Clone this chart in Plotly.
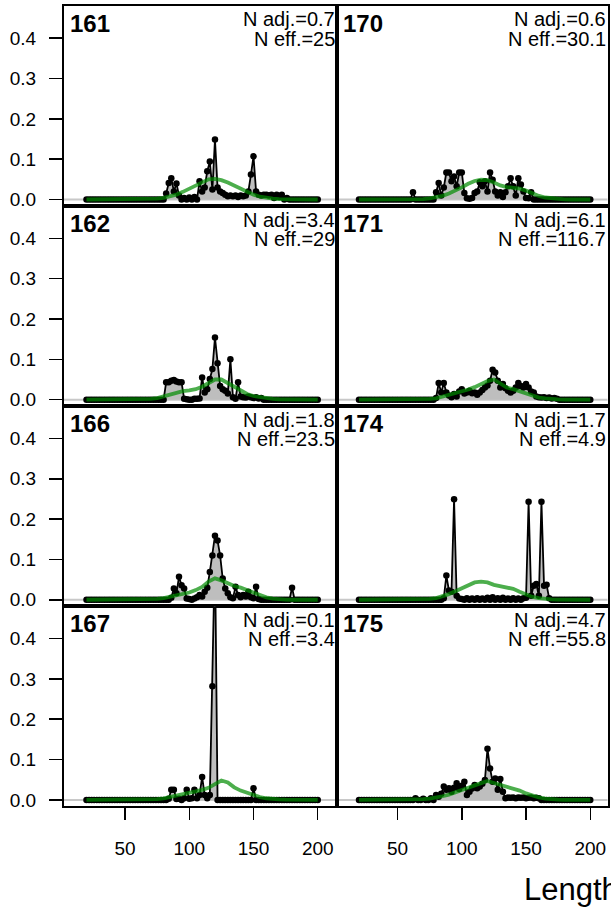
import plotly.graph_objects as go

# ---------------- data ----------------
panel_ids = ["161", "162", "166", "167", "170", "171", "174", "175"]
n_adj = ["0.7", "3.4", "1.8", "0.1", "0.6", "6.1", "1.7", "4.7"]
n_eff = ["25", "29", "23.5", "3.4", "30.1", "116.7", "4.9", "55.8"]

bins = list(range(20, 201, 2))          # observed length bins
exp_len = list(range(20, 201, 5))       # expected length points

# observed proportions (non-zero bins only; all other bins are 0)
obs_161 = {82: 0.015, 84: 0.041, 86: 0.053, 88: 0.02, 90: 0.04, 92: 0.01, 96: 0.004, 100: 0.005,
           104: 0.006, 108: 0.045, 110: 0.02, 112: 0.03, 114: 0.07, 116: 0.094, 118: 0.025, 120: 0.149,
           122: 0.03, 124: 0.02, 126: 0.016, 128: 0.012, 130: 0.008, 132: 0.01, 134: 0.008, 136: 0.01,
           138: 0.006, 140: 0.01, 142: 0.008, 144: 0.01, 146: 0.02, 148: 0.062, 150: 0.107, 152: 0.02,
           154: 0.012, 156: 0.01, 158: 0.012, 160: 0.012, 162: 0.01, 164: 0.012, 166: 0.004, 168: 0.012,
           170: 0.006, 172: 0.012, 176: 0.004}
obs_162 = {82: 0.043, 84: 0.043, 86: 0.047, 88: 0.049, 90: 0.045, 92: 0.043, 94: 0.043, 96: 0.002,
           98: 0.001, 104: 0.002, 106: 0.002, 108: 0.003, 110: 0.055, 112: 0.018, 114: 0.026, 116: 0.051,
           118: 0.076, 120: 0.154, 122: 0.09, 124: 0.034, 126: 0.026, 128: 0.022, 130: 0.015, 132: 0.1,
           134: 0.006, 136: 0.002, 138: 0.043, 140: 0.008, 142: 0.006, 144: 0.005, 146: 0.008, 148: 0.006,
           150: 0.004, 152: 0.006, 154: 0.003, 156: 0.004}
obs_166 = {86: 0.005, 88: 0.028, 90: 0.016, 92: 0.057, 94: 0.036, 96: 0.028, 98: 0.003, 100: 0.002,
           104: 0.003, 106: 0.006, 108: 0.012, 110: 0.008, 112: 0.02, 114: 0.03, 116: 0.069, 118: 0.11,
           120: 0.159, 122: 0.147, 124: 0.11, 126: 0.053, 128: 0.028, 130: 0.016, 132: 0.006, 134: 0.004,
           136: 0.032, 138: 0.012, 140: 0.006, 142: 0.012, 144: 0.008, 146: 0.02, 148: 0.006, 150: 0.004,
           152: 0.032, 154: 0.002, 180: 0.03}
obs_167 = {84: 0.003, 86: 0.025, 88: 0.025, 90: 0.002, 92: 0.003, 96: 0.004, 98: 0.025, 100: 0.003,
           102: 0.004, 104: 0.025, 106: 0.004, 108: 0.012, 110: 0.057, 112: 0.012, 114: 0.004, 116: 0.012,
           118: 0.282, 120: 0.62, 150: 0.029}
obs_170 = {62: 0.018, 80: 0.018, 82: 0.041, 84: 0.01, 86: 0.03, 88: 0.067, 90: 0.067, 92: 0.045,
           94: 0.057, 96: 0.033, 98: 0.067, 100: 0.067, 102: 0.016, 104: 0.003, 106: 0.002, 108: 0.004,
           110: 0.016, 112: 0.02, 114: 0.043, 116: 0.033, 118: 0.045, 120: 0.02, 122: 0.067, 124: 0.049,
           126: 0.02, 128: 0.01, 130: 0.018, 132: 0.006, 134: 0.018, 136: 0.033, 138: 0.053, 140: 0.033,
           142: 0.01, 144: 0.053, 146: 0.037, 148: 0.02, 150: 0.004, 152: 0.003, 154: 0.018}
obs_171 = {80: 0.004, 82: 0.041, 84: 0.018, 86: 0.041, 88: 0.018, 90: 0.01, 92: 0.006, 94: 0.014,
           96: 0.008, 98: 0.02, 100: 0.026, 102: 0.015, 104: 0.018, 106: 0.022, 108: 0.016, 110: 0.018,
           112: 0.012, 114: 0.018, 116: 0.024, 118: 0.03, 120: 0.035, 122: 0.047, 124: 0.074, 126: 0.067,
           128: 0.047, 130: 0.03, 132: 0.039, 134: 0.028, 136: 0.022, 138: 0.018, 140: 0.022, 142: 0.03,
           144: 0.041, 146: 0.034, 148: 0.03, 150: 0.039, 152: 0.03, 154: 0.02, 156: 0.018, 158: 0.008,
           160: 0.006, 162: 0.005, 164: 0.006, 166: 0.004, 168: 0.005, 170: 0.003, 172: 0.004, 174: 0.002}
obs_174 = {86: 0.004, 88: 0.06, 90: 0.023, 92: 0.02, 94: 0.249, 96: 0.01, 98: 0.003, 100: 0.002,
           104: 0.004, 108: 0.003, 112: 0.004, 116: 0.003, 120: 0.005, 124: 0.006, 128: 0.004, 132: 0.005,
           136: 0.003, 140: 0.004, 144: 0.003, 148: 0.004, 150: 0.005, 152: 0.243, 154: 0.01, 156: 0.035,
           158: 0.039, 160: 0.01, 162: 0.243, 164: 0.035, 166: 0.037, 168: 0.004}
obs_175 = {64: 0.004, 70: 0.003, 76: 0.004, 80: 0.012, 82: 0.008, 84: 0.015, 86: 0.033, 88: 0.025,
           90: 0.029, 92: 0.02, 94: 0.03, 96: 0.041, 98: 0.027, 100: 0.035, 102: 0.045, 104: 0.012,
           106: 0.02, 108: 0.028, 110: 0.037, 112: 0.029, 114: 0.033, 116: 0.04, 118: 0.049, 120: 0.127,
           122: 0.078, 124: 0.045, 126: 0.053, 128: 0.025, 130: 0.052, 132: 0.02, 134: 0.004, 136: 0.006,
           138: 0.005, 140: 0.006, 142: 0.004, 144: 0.006, 146: 0.005, 148: 0.006, 150: 0.004, 152: 0.005,
           154: 0.006, 156: 0.004, 158: 0.005, 160: 0.004}

# expected proportions at exp_len (20, 25, ..., 200)
exp_161 = [0, 0, 0, 0, 0, 0, 0, 0, 0, 0.0005, 0.001, 0.002, 0.004, 0.007, 0.012, 0.019, 0.027, 0.036,
           0.044, 0.050, 0.051, 0.048, 0.042, 0.034, 0.026, 0.018, 0.012, 0.007, 0.004, 0.002, 0.001,
           0.0005, 0, 0, 0, 0, 0]
exp_162 = [0, 0, 0, 0, 0, 0, 0, 0, 0, 0.001, 0.002, 0.004, 0.008, 0.013, 0.018, 0.021, 0.023, 0.026,
           0.032, 0.042, 0.050, 0.050, 0.041, 0.030, 0.021, 0.014, 0.009, 0.006, 0.004, 0.002, 0.001,
           0.0005, 0, 0, 0, 0, 0]
exp_166 = [0, 0, 0, 0, 0, 0, 0, 0, 0, 0.0005, 0.001, 0.002, 0.004, 0.007, 0.010, 0.014, 0.018, 0.024,
           0.032, 0.045, 0.053, 0.048, 0.040, 0.034, 0.030, 0.024, 0.017, 0.010, 0.006, 0.003, 0.001,
           0.0005, 0, 0, 0, 0, 0]
exp_167 = [0, 0, 0, 0, 0, 0, 0, 0, 0, 0.0005, 0.001, 0.002, 0.004, 0.007, 0.010, 0.013, 0.017, 0.021,
           0.025, 0.030, 0.039, 0.048, 0.043, 0.031, 0.023, 0.017, 0.012, 0.007, 0.004, 0.002, 0.001,
           0.0005, 0, 0, 0, 0, 0]
exp_170 = [0, 0, 0, 0, 0, 0, 0, 0, 0, 0.0005, 0.001, 0.003, 0.005, 0.009, 0.015, 0.022, 0.030, 0.039,
           0.046, 0.049, 0.048, 0.042, 0.035, 0.031, 0.029, 0.027, 0.022, 0.015, 0.009, 0.005, 0.003,
           0.001, 0.0005, 0, 0, 0, 0]
exp_171 = [0, 0, 0, 0, 0, 0, 0, 0, 0, 0.0005, 0.001, 0.002, 0.003, 0.007, 0.012, 0.016, 0.021, 0.025,
           0.031, 0.038, 0.046, 0.050, 0.040, 0.030, 0.026, 0.021, 0.016, 0.010, 0.005, 0.003, 0.001,
           0.0005, 0, 0, 0, 0, 0]
exp_174 = [0, 0, 0, 0, 0, 0, 0, 0, 0, 0.0005, 0.001, 0.002, 0.004, 0.008, 0.014, 0.021, 0.029, 0.037,
           0.043, 0.045, 0.043, 0.037, 0.034, 0.031, 0.027, 0.020, 0.013, 0.007, 0.004, 0.002, 0.001,
           0.0005, 0, 0, 0, 0, 0]
exp_175 = [0, 0, 0, 0, 0, 0, 0, 0, 0, 0.001, 0.002, 0.003, 0.005, 0.009, 0.013, 0.018, 0.024, 0.030,
           0.036, 0.042, 0.047, 0.042, 0.037, 0.033, 0.029, 0.023, 0.016, 0.010, 0.006, 0.003, 0.001,
           0.0005, 0, 0, 0, 0, 0]

obs_all = [obs_161, obs_162, obs_166, obs_167, obs_170, obs_171, obs_174, obs_175]
exp_all = [exp_161, exp_162, exp_166, exp_167, exp_170, exp_171, exp_174, exp_175]

x_ticks = [50, 100, 150, 200]
y_ticks = [0.0, 0.1, 0.2, 0.3, 0.4]

# ---------------- layout geometry (pixels) ----------------
W, H = 611, 914
col_px = [(63.5, 336.5), (336.5, 607.5)]
row_px = [(6, 207), (207, 408), (408, 609), (609, 810)]
x_ranges = [[2.1, 214.6], [2.5, 213.4]]
y_range = [-0.0163, 0.48]

FONT = "Liberation Sans, Arial, Helvetica, sans-serif"

def px_x(p):
    return p / W

def px_y(p):
    return 1 - p / H

fig = go.Figure()
annotations = []
shapes = []

for i, pid in enumerate(panel_ids):
    col = i // 4
    row = i % 4
    k = i + 1
    xa = "x" if k == 1 else f"x{k}"
    ya = "y" if k == 1 else f"y{k}"
    xl = "xaxis" if k == 1 else f"xaxis{k}"
    yl = "yaxis" if k == 1 else f"yaxis{k}"

    obs = [obs_all[i].get(b, 0.0) for b in bins]

    fig.add_trace(go.Scatter(
        x=bins, y=obs, xaxis=xa, yaxis=ya, mode="lines+markers",
        fill="tozeroy", fillcolor="#bebebe",
        line=dict(color="black", width=1.8),
        marker=dict(color="black", size=6.5),
        showlegend=False, hoverinfo="skip", cliponaxis=True))
    fig.add_trace(go.Scatter(
        x=exp_len, y=exp_all[i], xaxis=xa, yaxis=ya, mode="lines",
        line=dict(color="rgba(0,140,0,0.7)", width=3.8),
        showlegend=False, hoverinfo="skip"))

    c0, c1 = col_px[col]
    r0, r1 = row_px[row]
    bottom = row == 3
    left = col == 0

    fig.layout[xl] = dict(
        domain=[px_x(c0), px_x(c1)], range=x_ranges[col], anchor=ya,
        showline=True, mirror=True, linecolor="black", linewidth=2,
        showgrid=False, zeroline=False,
        tickvals=x_ticks, ticks="outside" if bottom else "",
        ticklen=12, tickwidth=1.5, tickcolor="black",
        showticklabels=bottom, ticklabelstandoff=12,
        tickfont=dict(family=FONT, size=19, color="black"))
    fig.layout[yl] = dict(
        domain=[px_y(r1), px_y(r0)], range=y_range, anchor=xa,
        showline=True, mirror=True, linecolor="black", linewidth=2,
        showgrid=False, zeroline=False,
        tickvals=y_ticks, tickformat=".1f", ticks="outside" if left else "",
        ticklen=12.5, tickwidth=1.5, tickcolor="black",
        showticklabels=left, ticklabelstandoff=9,
        tickfont=dict(family=FONT, size=19, color="black"))

    shapes.append(dict(type="line", xref=f"{xa} domain", yref=ya, x0=0, x1=1, y0=0, y1=0,
                       line=dict(color="#c8c8c8", width=2), layer="below"))

    annotations.append(dict(text=f"<b>{pid}</b>", xref="paper", yref="paper",
                            x=px_x(c0 + 4.5), y=px_y(r0 + 17.4), xanchor="left", yanchor="middle",
                            showarrow=False, font=dict(family=FONT, size=24, color="black")))
    annotations.append(dict(text=f"N adj.={n_adj[i]}", xref="paper", yref="paper",
                            x=px_x(c1 + 0.5), y=px_y(r0 + 13.5), xanchor="right", yanchor="middle",
                            showarrow=False, font=dict(family=FONT, size=20, color="black")))
    annotations.append(dict(text=f"N eff.={n_eff[i]}", xref="paper", yref="paper",
                            x=px_x(c1 + 0.5), y=px_y(r0 + 32.8), xanchor="right", yanchor="middle",
                            showarrow=False, font=dict(family=FONT, size=20, color="black")))

annotations.append(dict(text="Length (cm)", xref="paper", yref="paper",
                        x=px_x(522), y=px_y(893.5), xanchor="left", yanchor="middle",
                        showarrow=False, font=dict(family=FONT, size=31, color="black")))

fig.update_layout(width=W, height=H, margin=dict(l=0, r=0, t=0, b=0),
                  plot_bgcolor="white", paper_bgcolor="white",
                  annotations=annotations, shapes=shapes, showlegend=False)

fig.write_html("out.html",
               config={"displayModeBar": False, "staticPlot": True},
               post_script="document.documentElement.style.overflow='hidden';"
                           "document.body.style.overflow='hidden';"
                           "document.body.style.margin='0px';"
                           "document.body.style.padding='0px';")
